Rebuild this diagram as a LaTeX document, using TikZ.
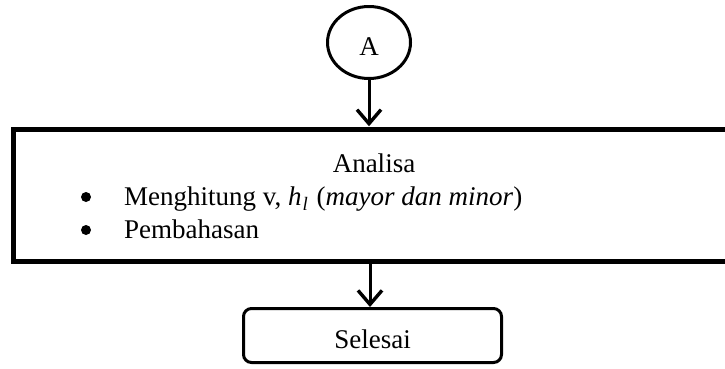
\documentclass[tikz,border=0pt]{standalone}
\usepackage{fontspec}
\setmainfont{Liberation Serif}
\usetikzlibrary{shapes.geometric,arrows.meta}
\newcommand{\hsubl}{\textit{h}\kern1pt\raisebox{-0.22em}{\fontsize{19}{19}\selectfont\textit{l}}\kern2pt}
\begin{document}
\begin{tikzpicture}[x=1pt,y=-1pt,
  txt/.style={font=\fontsize{27}{32}\selectfont, inner sep=0pt},
  dot/.style={circle, fill, inner sep=0pt, minimum size=10pt},
  conn/.style={line width=3pt, -{Straight Barb[length=14pt,width=24pt,line width=3.4pt]}},
  oval/.style={ellipse, draw, line width=3pt, minimum width=83pt, minimum height=72pt, inner sep=0pt},
  bigbox/.style={rectangle, draw, line width=4.5pt, minimum width=731.5pt, minimum height=132pt, inner sep=0pt},
  endbox/.style={rectangle, draw, rounded corners=8pt, line width=3pt, minimum width=258pt, minimum height=54pt, inner sep=0pt}]
\useasboundingbox (0,0) rectangle (725,368);
\clip (0,0) rectangle (725,368);
\node[oval] (A) at (369,42.5) {};
\node[txt, anchor=base] (Alabel) at (369,55) {A};
\node[bigbox] (box) at (379.25,195.5) {};
\node[txt, anchor=base] (t1) at (374,172) {Analisa};
\node[dot] (b1) at (86,197) {};
\node[txt, anchor=base west] (l1) at (124,205) {Menghitung v, \hsubl{} (\textit{mayor dan minor})};
\node[dot] (b2) at (86,230) {};
\node[txt, anchor=base west] (l2) at (124,238) {Pembahasan};
\node[endbox] (end) at (372.5,335.5) {};
\node[txt, anchor=base] (endlabel) at (372.5,348) {Selesai};
\draw[conn] (A.south) -- ([yshift=1pt]A.south |- box.north);
\draw[conn] ([xshift=370pt-379.25pt]box.south) -- ([xshift=370pt-372.5pt]end.north);
\end{tikzpicture}
\end{document}
